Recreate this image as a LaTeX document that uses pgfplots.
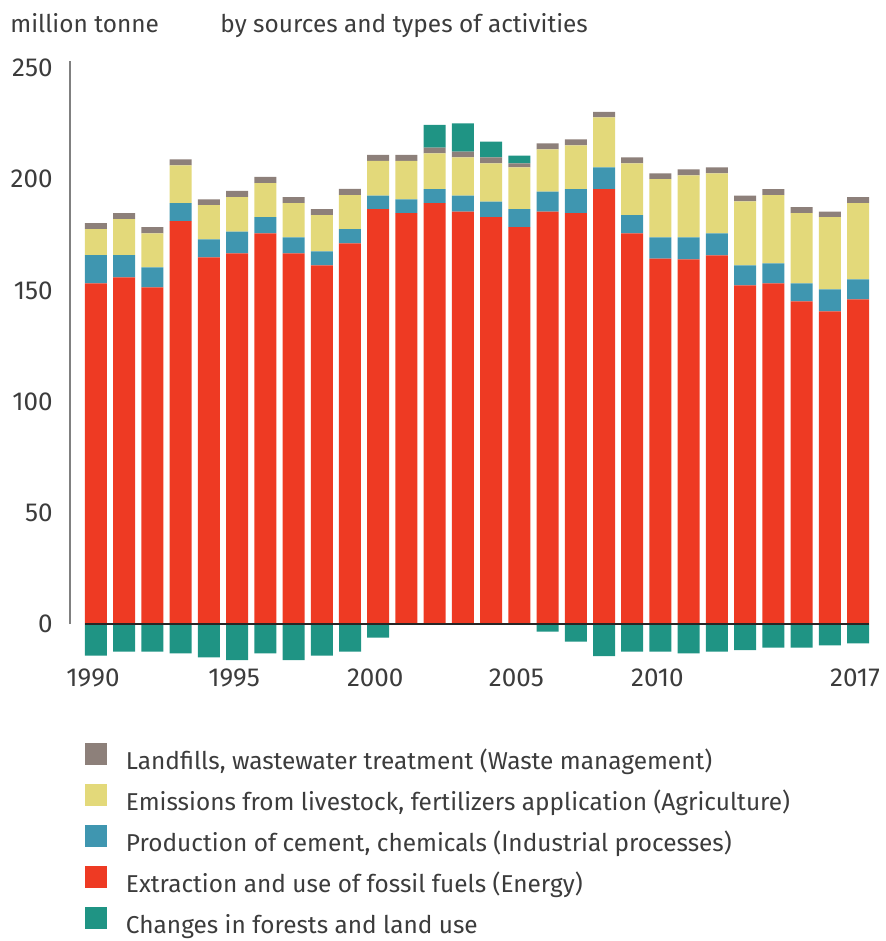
\documentclass[border=0pt]{standalone}
\usepackage{pgfplots}
\pgfplotsset{compat=1.18}
\usepackage{pgfplotstable}
\usepackage{fontspec}
\setmainfont{Fira Sans}
\definecolor{energy}{HTML}{EE3A23}
\definecolor{indus}{HTML}{3F96B0}
\definecolor{agri}{HTML}{E3D97A}
\definecolor{waste}{HTML}{8D807A}
\definecolor{forest}{HTML}{1F9484}
\definecolor{txt}{HTML}{3C3C3C}

\pgfplotstableread{
year E I A W Fp Fn
1990 153.2 12.7 11.6 2.7 0 -14.2
1991 155.9 10.0 16.1 2.7 0 -12.4
1992 151.4 9.0 15.3 2.7 0 -12.4
1993 181.1 8.1 17.0 2.7 0 -13.2
1994 164.9 8.1 15.3 2.6 0 -15.0
1995 166.7 9.7 15.5 2.8 0 -16.2
1996 175.7 7.2 15.3 2.8 0 -13.2
1997 166.7 7.2 15.3 2.7 0 -16.2
1998 161.3 6.3 16.2 2.7 0 -14.2
1999 171.2 6.3 15.3 2.8 0 -12.4
2000 186.5 6.1 15.6 2.7 0 -6.1
2001 184.7 6.2 17.3 2.7 0 0
2002 189.2 6.3 16.1 2.6 10.2 0
2003 185.4 7.2 17.2 2.6 12.7 0
2004 182.9 7.0 17.2 2.7 7.1 0
2005 178.4 8.1 18.8 1.8 3.5 0
2006 185.4 9.0 19.0 2.7 0 -3.4
2007 184.7 10.8 19.7 2.7 0 -7.9
2008 195.5 9.8 22.5 2.5 0 -14.4
2009 175.7 8.1 23.3 2.7 0 -12.4
2010 164.3 9.6 26.1 2.6 0 -12.4
2011 164.0 9.9 27.8 2.7 0 -13.2
2012 165.8 9.9 26.9 2.7 0 -12.4
2013 152.3 9.0 28.7 2.6 0 -11.7
2014 153.2 9.0 30.6 2.7 0 -10.6
2015 145.1 8.1 31.5 2.7 0 -10.6
2016 140.6 9.9 32.4 2.5 0 -9.6
2017 146.0 9.0 34.2 2.7 0 -8.7
}\data

\begin{document}
\begin{tikzpicture}[x=1pt,y=1pt]
\useasboundingbox (0,0) rectangle (443,470.5);
\pgfplotsset{common/.style={scale only axis, width=403pt, height=303.58pt,
  xmin=1989.079, xmax=2017.638, ymin=-20, ymax=253,
  at={(35pt,136.25pt)}, anchor=south west, clip=false}}
\begin{axis}[common, ybar stacked, bar width=11pt,
  axis line style={draw=none}, tick style={draw=none},
  xtick={1990,1995,2000,2005,2010,2017},
  xticklabels={1990,1995,2000,2005,2010,2017},
  ytick={0,50,100,150,200,250},
  yticklabels={0,50,100,150,200,250},
  ticklabel style={font=\fontsize{13}{15}\selectfont, text=txt},
  yticklabel style={anchor=east, inner sep=0pt, xshift=-8.5pt},
  xticklabel style={anchor=center, inner sep=0pt, yshift=-4.75pt, xshift=-1.5pt},
  legend image code/.code={\fill[#1] (0pt,-1.2pt) rectangle (11pt,9.8pt);},
  legend cell align=left,
  legend style={draw=none, fill=none, inner sep=0pt, outer sep=0pt,
    at={(0.0186,-0.1227)}, anchor=north west, row sep=5.0pt,
    font=\fontsize{12.2}{14}\selectfont, text=txt,
    nodes={inner sep=0pt, text height=9pt, text depth=2.5pt},
    /tikz/column 1/.style={column sep=9.5pt}},
]
\addlegendimage{fill=waste, draw=none}
\addlegendentry{Landfills, wastewater treatment (Waste management)}
\addlegendimage{fill=agri, draw=none}
\addlegendentry{Emissions from livestock, fertilizers application (Agriculture)}
\addlegendimage{fill=indus, draw=none}
\addlegendentry{Production of cement, chemicals (Industrial processes)}
\addlegendimage{fill=energy, draw=none}
\addlegendentry{Extraction and use of fossil fuels (Energy)}
\addlegendimage{fill=forest, draw=none}
\addlegendentry{Changes in forests and land use}
\addplot[fill=energy, draw=none, forget plot] table[x=year, y=E] {\data};
\addplot[fill=indus, draw=none, forget plot] table[x=year, y=I] {\data};
\addplot[fill=agri, draw=none, forget plot] table[x=year, y=A] {\data};
\addplot[fill=waste, draw=none, forget plot] table[x=year, y=W] {\data};
\addplot[fill=forest, draw=none, forget plot] table[x=year, y=Fp] {\data};
\end{axis}
\begin{axis}[common, hide axis, ybar, bar width=11pt, bar shift=0pt]
\addplot[fill=forest, draw=none] table[x=year, y=Fn] {\data};
\draw[black!85, line width=0.7pt] (axis cs:1989.61,0) -- (axis cs:2017.39,0);
\draw[black!50, line width=1pt] (axis cs:1989.079,0) -- (axis cs:1989.079,253);
\end{axis}
\node[anchor=base west, inner sep=0pt, text=txt, font=\fontsize{12.2}{14}\selectfont] at (5,454) {million tonne};
\node[anchor=base west, inner sep=0pt, text=txt, font=\fontsize{12.2}{14}\selectfont] at (110,454) {by sources and types of activities};
\end{tikzpicture}
\end{document}
